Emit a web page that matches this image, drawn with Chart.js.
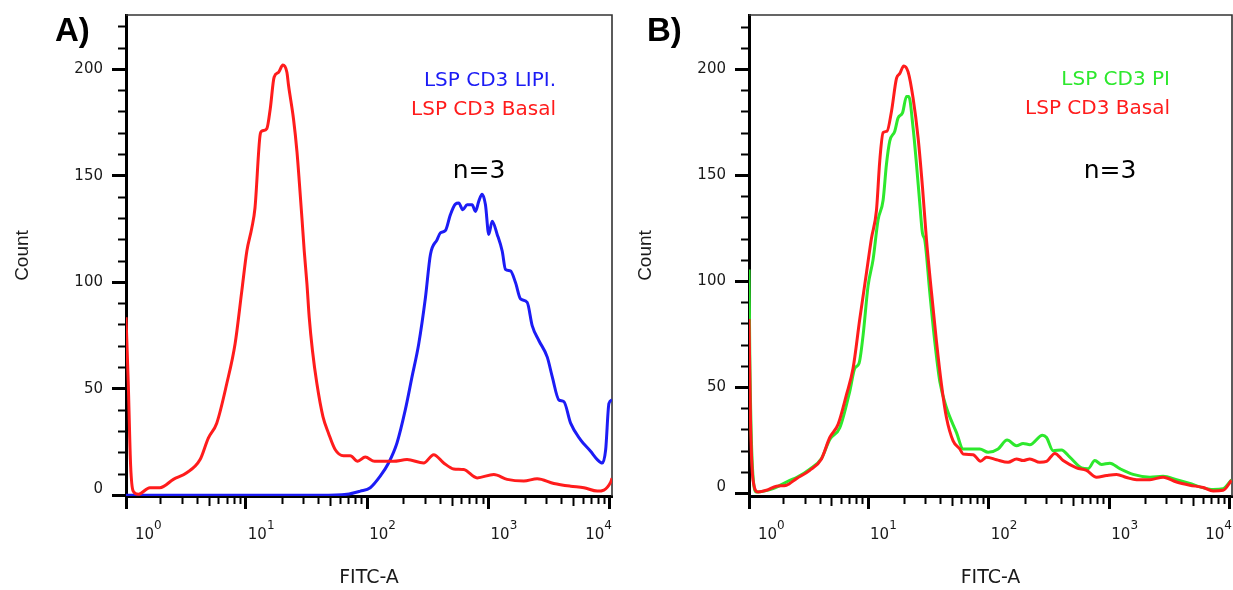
<!DOCTYPE html>
<html>
<head>
<meta charset="utf-8">
<script src="https://cdn.jsdelivr.net/npm/chart.js@4.4.1/dist/chart.umd.min.js"></script>
<style>
  body { margin: 0; background: #fff; }
  .panel { position: absolute; top: 0; height: 590px; }
  #pa { left: 0; width: 623px; }
  #pb { left: 623px; width: 610px; }
</style>
</head>
<body>
<div class="panel" id="pa"><canvas id="chartA"></canvas></div>
<div class="panel" id="pb"><canvas id="chartB"></canvas></div>
<script>
// panel A: basal vs LIPI, FITC-A intensity (x) and count (y)
const aBasalX = [1.03, 1.075, 1.125, 1.18, 1.30, 1.62, 1.96, 2.53, 3.26, 4.20, 4.91, 5.76, 6.97, 8.16, 9.27, 10.2, 11.2, 11.9, 13.1, 13.55, 14.9, 15.9, 17.1, 18.6, 20.2, 21.8, 22.5, 24.7, 26.4, 27.7, 29.0, 30.3, 31.9, 33.3, 35.4, 38.5, 43.2, 48.0, 54.6, 63.8, 72.5, 83.4, 96.4, 115, 165, 213, 292, 353, 427, 516, 624, 805, 1104, 1423, 1951, 2516, 3452, 4742, 6102, 7870, 8917, 10140, 10400];
const aBasalY = [83.6, 52.7, 13.7, 2.0, 0.5, 3.6, 3.6, 7.5, 10.6, 16.8, 26.9, 33.9, 52.5, 71.2, 96.0, 114.7, 125.5, 134.9, 169.0, 171.0, 172.2, 181.5, 196.3, 198.6, 202.0, 198.6, 192.4, 176.8, 161.3, 145.8, 130.2, 114.7, 99.2, 83.6, 68.0, 52.5, 37.0, 29.2, 21.4, 18.6, 18.6, 16.0, 18.0, 16.0, 16.0, 16.8, 15.2, 19.1, 15.2, 12.4, 12.1, 8.2, 9.8, 7.5, 6.7, 7.8, 5.6, 4.3, 3.6, 2.0, 2.5, 6.2, 8.0];
const aLipiX = [1.03, 41.0, 68.1, 87.7, 106, 128, 150, 176, 206, 234, 266, 302, 332, 377, 401, 441, 485, 533, 568, 613, 666, 732, 780, 830, 885, 943, 1004, 1071, 1178, 1295, 1378, 1516, 1667, 1834, 2081, 2288, 2595, 3046, 3350, 3796, 4174, 4742, 5730, 6930, 7870, 8657, 9220, 9815, 10400];
const aLipiY = [0, 0, 0.5, 2.0, 3.6, 9.0, 15.2, 24.6, 40.1, 55.6, 71.2, 92.9, 113.1, 120.1, 123.2, 124.3, 131.8, 136.7, 137.2, 134.1, 136.4, 136.4, 133.3, 138.0, 141.4, 136.4, 122.5, 128.7, 122.5, 114.7, 106.1, 105.4, 99.9, 92.2, 90.6, 79.7, 72.7, 64.9, 55.6, 44.8, 44.0, 33.9, 26.1, 20.7, 16.8, 15.2, 21.4, 43.2, 44.8];

// panel B: basal vs PI
const bBasalX = [1.031, 1.059, 1.113, 1.224, 1.437, 1.740, 2.106, 2.549, 3.286, 4.108, 4.813, 5.640, 6.621, 7.508, 8.535, 9.70, 10.67, 11.74, 12.50, 13.32, 14.37, 15.63, 17.20, 18.32, 19.77, 21.47, 23.61, 25.98, 28.25, 30.50, 33.56, 36.93, 40.61, 44.68, 50.7, 57.6, 61.3, 74.2, 85.5, 95.9, 116.1, 144.8, 170.1, 192.9, 219.2, 265.3, 301.6, 353.3, 414, 534.6, 647.1, 783.4, 948.4, 1148, 1390, 1683, 2169, 2795, 3608, 4653, 5997, 7259, 8786, 10310];
const bBasalY = [82.3, 35.7, 6.2, 0.7, 1.5, 3.4, 3.9, 7.0, 10.9, 16.3, 26.4, 32.6, 46.6, 59.0, 82.3, 104.1, 120.4, 133.6, 156.9, 170.2, 170.9, 180.2, 195.8, 198.1, 201.7, 198.9, 186.5, 167.8, 144.5, 119.6, 94.8, 71.5, 51.3, 35.7, 24.8, 21.0, 18.6, 18.3, 15.2, 17.1, 15.9, 14.7, 16.3, 15.5, 16.3, 14.7, 15.1, 18.9, 15.5, 12.1, 10.9, 7.7, 8.5, 9.0, 7.5, 6.5, 6.5, 7.7, 5.4, 3.9, 2.8, 1.2, 1.5, 6.2];
const bPiX = [1.031, 1.045, 1.100, 1.187, 1.631, 2.242, 2.549, 3.286, 4.108, 4.813, 5.83, 7.05, 7.76, 8.42, 9.09, 10.0, 11.0, 12.1, 13.32, 14.21, 15.14, 16.65, 17.74, 19.29, 20.82, 21.76, 23.61, 25.19, 26.84, 28.25, 29.52, 32.48, 35.74, 39.32, 44.68, 54.1, 61.3, 84.4, 98.9, 119.7, 142.1, 170.1, 192.9, 219.2, 279.3, 301.6, 342, 401.5, 470.5, 588.4, 667.3, 758.4, 861.5, 1010, 1222, 1575, 2169, 2795, 3608, 4653, 5636, 7259, 8786, 10310];
const bPiY = [105.6, 66.8, 12.4, 0.7, 2.3, 6.2, 7.5, 11.5, 16.5, 25.5, 31.0, 48.2, 59.0, 61.4, 74.6, 97.9, 110.3, 129.0, 138.3, 155.4, 166.3, 170.9, 177.2, 179.5, 187.2, 187.2, 172.5, 155.4, 136.7, 122.7, 119.6, 94.8, 71.5, 52.8, 40.4, 28.7, 21.0, 21.0, 19.4, 21.0, 25.2, 22.5, 23.6, 23.0, 27.5, 26.4, 20.2, 20.5, 17.1, 12.1, 11.7, 15.5, 13.7, 14.3, 11.7, 9.0, 7.7, 8.1, 6.5, 4.7, 3.1, 1.9, 2.3, 6.5];

// axes
const xMin = 1.03, xMax = 10400;
const xMajors = [10, 100, 1000, 10000];
const xExponents = [0, 1, 2, 3, 4];          // labels 10^0 ... 10^4
const yTicks = [0, 10, 20, 30, 40, 50, 60, 70, 80, 90, 100, 110, 120, 130, 140, 150, 160, 170, 180, 190, 200, 210, 220];
const yLabels = [0, 50, 100, 150, 200];

const xTicks = [xMin];
[1, 10, 100, 1000].forEach(d => {
  for (let k = 2; k <= 9; k++) xTicks.push(k * d);
  xTicks.push(10 * d);
});

const RED = 'rgb(255,28,28)', BLUE = 'rgb(28,28,245)', GREEN = 'rgb(45,232,45)';
const isMajorX = v => v === xMin || xMajors.includes(v);
const isFiveX = v => [5, 50, 500, 5000].includes(v);

const annotate = {
  id: 'annotate',
  beforeDatasetsDraw(chart) {
    const {ctx, chartArea: a} = chart;
    ctx.save();
    ctx.strokeStyle = '#333';
    ctx.lineWidth = 1.6;
    ctx.beginPath();
    ctx.moveTo(a.left, a.top);
    ctx.lineTo(a.right, a.top);
    ctx.lineTo(a.right, a.bottom);
    ctx.stroke();
    ctx.restore();
  },
  afterDraw(chart, args, o) {
    const {ctx, chartArea: a} = chart;
    const sx = chart.scales.x;
    ctx.save();
    ctx.fillStyle = '#1a1a1a';
    ctx.textAlign = 'left';
    ctx.textBaseline = 'alphabetic';
    // log tick labels with superscript exponents
    xExponents.forEach(e => {
      ctx.font = '15px "DejaVu Sans"';
      const w1 = ctx.measureText('10').width;
      ctx.font = '12px "DejaVu Sans"';
      const w2 = ctx.measureText(String(e)).width;
      let x = sx.getPixelForValue(Math.pow(10, e)) + 2;
      x = Math.max(x, a.left + 9);
      x = Math.min(x, a.right - w1 - w2);
      ctx.font = '15px "DejaVu Sans"';
      ctx.fillText('10', x, 538.5);
      ctx.font = '12px "DejaVu Sans"';
      ctx.fillText(String(e), x + w1, 528.5);
    });
    // panel letter
    ctx.fillStyle = '#000';
    ctx.font = 'bold 33px "Liberation Sans"';
    ctx.fillText(o.panel, o.panelX, 41);
    // legend, drawn right aligned, last dataset first
    ctx.textAlign = 'right';
    ctx.font = '20px "DejaVu Sans"';
    chart.data.datasets.slice().reverse().forEach((d, i) => {
      ctx.fillStyle = d.borderColor;
      ctx.fillText(d.label, o.legendRight, o.legendBase + i * 28.5);
    });
    ctx.textAlign = 'center';
    ctx.fillStyle = '#000';
    ctx.font = '25px "DejaVu Sans"';
    ctx.fillText('n=3', o.nX, 178);
    ctx.restore();
  }
};

function histogram(id, sets, o) {
  return new Chart(document.getElementById(id), {
    type: 'line',
    data: {
      datasets: sets.map(s => ({
        label: s.label,
        data: s.x.map((v, i) => ({x: v, y: s.y[i]})),
        borderColor: s.color,
        borderWidth: 3,
        pointRadius: 0,
        cubicInterpolationMode: 'monotone',
        fill: false
      }))
    },
    options: {
      responsive: true,
      maintainAspectRatio: false,
      animation: false,
      layout: {padding: {top: o.top, right: o.right, left: 0, bottom: 0}},
      plugins: {legend: {display: false}, tooltip: {enabled: false}, annotate: o},
      scales: {
        x: {
          type: 'logarithmic',
          min: xMin,
          max: xMax,
          afterBuildTicks: s => { s.ticks = xTicks.map(v => ({value: v})); },
          afterFit: s => { s.height = 94; },
          ticks: {display: false},
          grid: {
            drawOnChartArea: false,
            color: '#000',
            tickColor: '#000',
            tickLength: 13,
            tickWidth: c => (c.tick && isMajorX(c.tick.value)) ? 3 : 2,
            tickBorderDash: c => (!c.tick || isMajorX(c.tick.value)) ? [] : [isFiveX(c.tick.value) ? 8 : 6, 40]
          },
          border: {color: '#000', width: 3},
          title: {
            display: true, text: 'FITC-A', color: '#1a1a1a',
            font: {family: 'DejaVu Sans', size: 19},
            padding: {top: 0, bottom: 1}
          }
        },
        y: {
          min: o.yMin,
          max: o.yMax,
          afterBuildTicks: s => { s.ticks = yTicks.map(v => ({value: v})); },
          afterFit: s => { s.width = 126; },
          ticks: {
            autoSkip: false,
            padding: 9,
            color: '#1a1a1a',
            font: {family: 'DejaVu Sans', size: 15, lineHeight: 0.8},
            callback: v => yLabels.includes(v) ? (v === 0 ? ['0', ''] : String(v)) : ''
          },
          grid: {
            drawOnChartArea: false,
            color: '#000',
            tickColor: '#000',
            tickLength: 14,
            tickWidth: c => (c.tick && c.tick.value % 50 === 0) ? 3 : 2,
            tickBorderDash: c => (!c.tick || c.tick.value % 50 === 0) ? [] : [7, 6],
            tickBorderDashOffset: c => (!c.tick || c.tick.value % 50 === 0) ? 0 : 7
          },
          border: {color: '#000', width: 3},
          title: {
            display: true, text: 'Count', color: '#1a1a1a',
            font: {family: 'Liberation Sans', size: 19},
            padding: {top: 11, bottom: 0}
          }
        }
      }
    },
    plugins: [annotate]
  });
}

histogram('chartA', [
  {label: 'LSP CD3 Basal', x: aBasalX, y: aBasalY, color: RED},
  {label: 'LSP CD3 LIPI.', x: aLipiX, y: aLipiY, color: BLUE}
], {top: 12, right: 11, yMin: -0.3, yMax: 225.5, panel: 'A)', panelX: 55, legendRight: 556, legendBase: 86, nX: 479});

histogram('chartB', [
  {label: 'LSP CD3 Basal', x: bBasalX, y: bBasalY, color: RED},
  {label: 'LSP CD3 PI', x: bPiX, y: bPiY, color: GREEN}
], {top: 10, right: 1, yMin: -1.2, yMax: 225.7, panel: 'B)', panelX: 24, legendRight: 547, legendBase: 85, nX: 487});
</script>
</body>
</html>
